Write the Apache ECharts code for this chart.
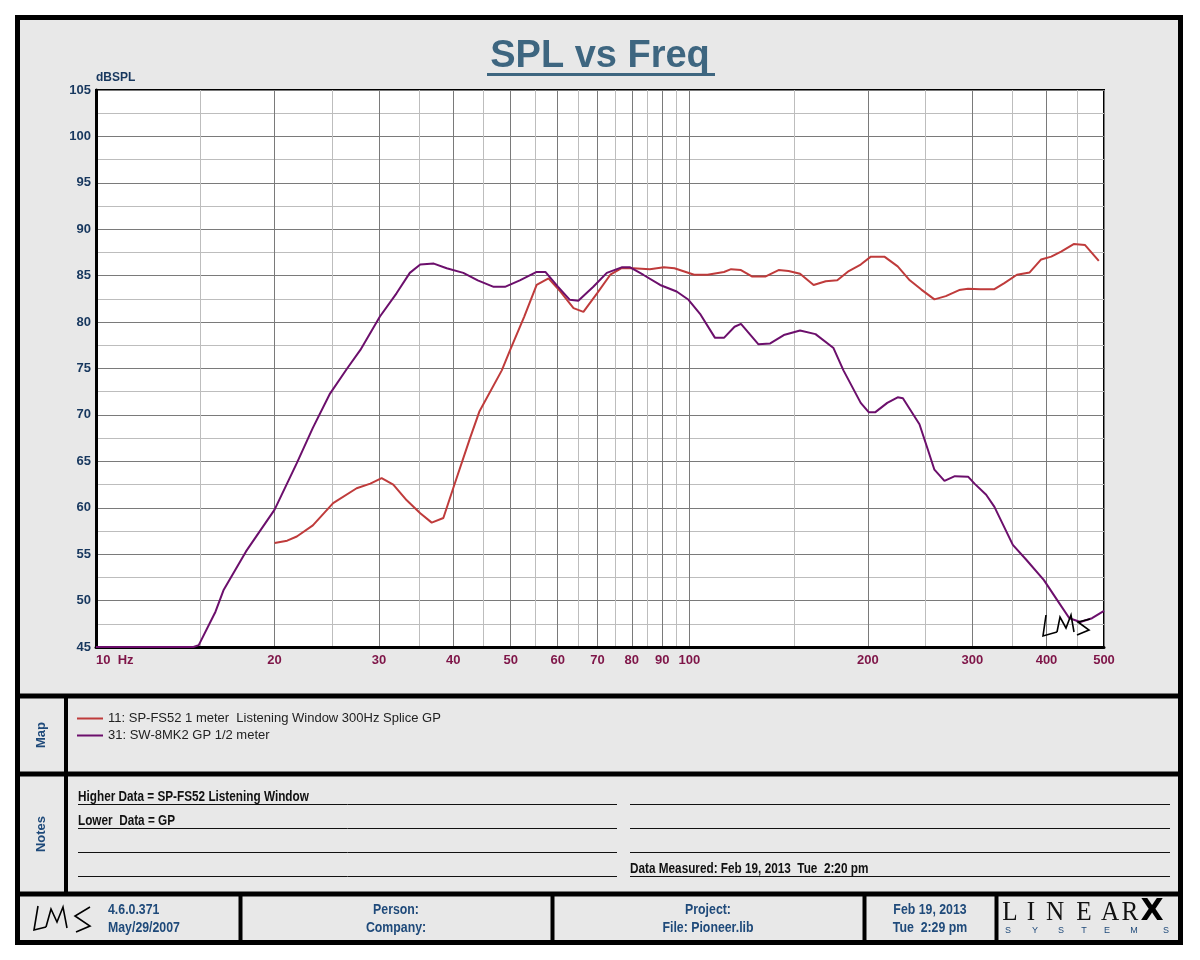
<!DOCTYPE html>
<html>
<head>
<meta charset="utf-8">
<script src="https://cdn.jsdelivr.net/npm/echarts@6/dist/echarts.min.js"></script>
<style>
  html, body { margin: 0; padding: 0; background: #fff; }
  #spl { width: 1200px; height: 960px; }
</style>
</head>
<body>
<div id="spl"></div>
<script>
// 11: SP-FS52 listening window (upper curve)
const freqHigh = [20, 21, 21.8, 23.2, 25.1, 27.5, 29, 30.3, 31.7, 33.4, 35.2, 36.8, 38.5, 40, 42.7, 44.3,
  48.3, 49.9, 52.7, 55.3, 57.9, 60.6, 63.8, 66.3, 69.9, 73.6, 76.9, 80.4, 85.8, 90.6, 94.4, 101.9, 107.3,
  114.4, 117.6, 122.2, 127.7, 134.3, 141.4, 147, 153.7, 162, 169.8, 177.6, 185.7, 194.5, 202.3, 213.2,
  224.5, 235.3, 246.1, 258.9, 270.6, 285, 295, 309.5, 326.8, 339.6, 356.6, 374.7, 391.8, 407.4, 423.3,
  444.5, 464.6, 490];
const splHigh = [56.2, 56.45, 56.9, 58.1, 60.5, 62.1, 62.6, 63.2, 62.5, 60.8, 59.4, 58.4, 58.9, 62.1, 67.5, 70.4,
  74.8, 77, 80.6, 84, 84.7, 83.3, 81.5, 81.1, 83.1, 85.1, 85.8, 85.8, 85.7, 85.9, 85.8, 85.1, 85.1,
  85.4, 85.7, 85.6, 84.9, 84.9, 85.6, 85.5, 85.2, 84, 84.4, 84.5, 85.5, 86.2, 87.05, 87.05,
  86, 84.5, 83.5, 82.45, 82.8, 83.45, 83.6, 83.55, 83.55, 84.2, 85.1, 85.35, 86.75, 87.05, 87.6,
  88.4, 88.3, 86.6];

// 31: SW-8MK2 GP (lower curve)
const freqLow = [10, 14.6, 14.9, 15.9, 16.4, 17.9, 20, 21.8, 23.2, 24.8, 26.5, 27.9, 30.1, 32.1, 33.8, 35.2,
  37.1, 39, 41.6, 44, 46.8, 48.9, 51.8, 55.3, 57.2, 60.1, 62.9, 65, 68.9, 72.6, 76.9, 79.5, 83.6, 89.3,
  95.2, 99.7, 104.5, 110.5, 114.4, 119.2, 122.2, 130.8, 136.9, 144.3, 153.7, 163.2, 175, 181.9, 194.5,
  200.6, 205.9, 215.6, 224.5, 229.1, 244.3, 252.6, 258.9, 269.2, 280.3, 295, 302.5, 316.5, 326.8, 351,
  369.8, 396, 420.5, 437.1, 456.2, 477.3, 500];
const splLow = [45, 45, 45.2, 48.8, 51.1, 55.3, 59.8, 64.8, 68.6, 72.3, 75, 77, 80.6, 83.1, 85.3, 86.2,
  86.3, 85.8, 85.3, 84.5, 83.8, 83.8, 84.5, 85.4, 85.4, 83.8, 82.4, 82.3, 83.8, 85.3, 85.9, 85.9, 85.1, 84,
  83.3, 82.4, 80.8, 78.3, 78.3, 79.5, 79.8, 77.6, 77.7, 78.6, 79.1, 78.7, 77.2, 74.8, 71.3,
  70.3, 70.3, 71.3, 71.9, 71.8, 69, 66.2, 64.1, 62.9, 63.4, 63.35, 62.6, 61.4, 60.1, 56,
  54.4, 52.2, 49.7, 48.1, 47.7, 48.1, 48.9];

// grid lines / tick labels
const freqMajor = [10, 20, 30, 40, 50, 60, 70, 80, 90, 100, 200, 300, 400, 500];
const freqMinor = [15, 25, 35, 45, 55, 65, 75, 85, 95, 150, 250, 350, 450];

const nameHigh = "11: SP-FS52 1 meter  Listening Window 300Hz Splice GP";
const nameLow = "31: SW-8MK2 GP 1/2 meter";

const SANS = "'Liberation Sans', Arial, sans-serif";
const SERIF = "'Liberation Serif', 'DejaVu Serif', serif";
const NAVY = "#17375e";
const FOOT = "#1f4a7a";

const zip = (xs, ys) => xs.map((x, i) => [x, ys[i]]);

const chart = echarts.init(document.getElementById("spl"));

// frame, panels and text blocks around the plot
const graphic = [];
graphic.push({
  type: "rect", z: -10,
  shape: { x: 17.5, y: 17.5, width: 1163, height: 925 },
  style: { fill: "#e8e8e8", stroke: "#000", lineWidth: 5 },
});
[696, 774, 894].forEach((y) => {
  graphic.push({ type: "line", z: 5, shape: { x1: 17, y1: y, x2: 1181, y2: y }, style: { stroke: "#000", lineWidth: 5 } });
});
graphic.push({ type: "line", z: 5, shape: { x1: 66, y1: 698, x2: 66, y2: 892 }, style: { stroke: "#000", lineWidth: 4 } });
[240.5, 552.5, 864.5, 996.5].forEach((x) => {
  graphic.push({ type: "line", z: 5, shape: { x1: x, y1: 896, x2: x, y2: 941 }, style: { stroke: "#000", lineWidth: 4 } });
});

// title underline
graphic.push({ type: "rect", shape: { x: 487, y: 73, width: 228, height: 3 }, style: { fill: "#3e6680" } });

// narrow-looking text: squeeze a normal font horizontally
const squeezed = (txt, x, y, font, fill, align, vAlign, sx) => ({
  type: "text", x: x, y: y, scaleX: sx,
  style: { text: txt, x: 0, y: 0, align: align, textAlign: align, verticalAlign: vAlign, textVerticalAlign: vAlign,
    font: font, fill: fill },
});

// side labels
const sideText = (txt, y) => ({
  type: "text", x: 41, y: y, rotation: Math.PI / 2,
  style: { text: txt, x: 0, y: 0, align: "center", verticalAlign: "middle", textAlign: "center", textVerticalAlign: "middle",
    font: "bold 13px " + SANS, fill: FOOT },
});
graphic.push(sideText("Map", 735));
graphic.push(sideText("Notes", 834));

// notes lines
[804, 828, 852, 876].forEach((y) => {
  graphic.push({ type: "line", shape: { x1: 78, y1: y + 0.5, x2: 617, y2: y + 0.5 }, style: { stroke: "#111", lineWidth: 1 } });
  graphic.push({ type: "line", shape: { x1: 630, y1: y + 0.5, x2: 1170, y2: y + 0.5 }, style: { stroke: "#111", lineWidth: 1 } });
});
const NOTE_FONT = "bold 14px " + SANS;
graphic.push(squeezed("Higher Data = SP-FS52 Listening Window", 78, 804, NOTE_FONT, "#111", "left", "bottom", 0.84));
graphic.push(squeezed("Lower  Data = GP", 78, 828, NOTE_FONT, "#111", "left", "bottom", 0.84));
graphic.push(squeezed("Data Measured: Feb 19, 2013  Tue  2:20 pm", 630, 876, NOTE_FONT, "#111", "left", "bottom", 0.84));

// footer texts
const FOOT_FONT = "bold 14px " + SANS;
const footText = (txt, x, y, align) => squeezed(txt, x, y, FOOT_FONT, FOOT, align, "middle", 0.88);
graphic.push(footText("4.6.0.371", 108, 910, "left"));
graphic.push(footText("May/29/2007", 108, 928, "left"));
graphic.push(footText("Person:", 396, 910, "center"));
graphic.push(footText("Company:", 396, 928, "center"));
graphic.push(footText("Project:", 708, 910, "center"));
graphic.push(footText("File: Pioneer.lib", 708, 928, "center"));
graphic.push(footText("Feb 19, 2013", 930, 910, "center"));
graphic.push(footText("Tue  2:29 pm", 930, 928, "center"));

// LINEARX logo
const logoX = [1010, 1031, 1055, 1084, 1110, 1130];
"LINEAR".split("").forEach((ch, i) => {
  graphic.push(squeezed(ch, logoX[i], 913, "28px " + SERIF, "#111", "center", "middle", 0.9));
});
graphic.push({ type: "text", style: { text: "X", x: 1152, y: 912, align: "center", textAlign: "center",
  verticalAlign: "middle", textVerticalAlign: "middle", font: "bold 30px 'DejaVu Sans', sans-serif", fill: "#000" } });
const sysX = [1008, 1035, 1061, 1084, 1107, 1134, 1166];
"SYSTEMS".split("").forEach((ch, i) => {
  graphic.push({ type: "text", style: { text: ch, x: sysX[i], y: 931, align: "center", textAlign: "center",
    verticalAlign: "middle", textVerticalAlign: "middle", font: "9px " + SANS, fill: "#1f4a7a" } });
});

// hand-written LMS marks
const lms = (pts) => ({ type: "polyline", z: 20, shape: { points: pts }, style: { stroke: "#000", lineWidth: 1.6, fill: null } });
graphic.push(lms([[38, 906], [34, 930], [46, 927]]));
graphic.push(lms([[46, 927], [51, 909], [57, 922], [63, 907], [67, 928]]));
graphic.push(lms([[90, 907], [75, 916], [90, 926], [76, 932]]));
graphic.push(lms([[1046, 615], [1043, 636], [1057, 632]]));
graphic.push(lms([[1057, 632], [1060, 617], [1066, 628], [1071, 615], [1074, 632]]));
graphic.push(lms([[1090, 619], [1078, 622], [1089, 630], [1077, 635]]));

const option = {
  animation: false,
  backgroundColor: "#fff",
  title: {
    text: "SPL vs Freq",
    left: "center",
    top: 33,
    textStyle: { fontFamily: SANS, fontSize: 38, fontWeight: "bold", color: "#3e6680" },
  },
  legend: {
    orient: "vertical",
    left: 77,
    top: 712,
    padding: 0,
    icon: "rect",
    itemWidth: 26,
    itemHeight: 2,
    itemGap: 4,
    selectedMode: false,
    textStyle: { fontFamily: SANS, fontSize: 13, color: "#222" },
    data: [nameHigh, nameLow],
  },
  grid: {
    left: 96,
    right: 96,
    top: 90,
    bottom: 313,
    show: true,
    backgroundColor: "#fff",
    borderColor: "#000",
    borderWidth: 2,
    containLabel: false,
  },
  xAxis: [
    {
      type: "log",
      logBase: 10,
      min: 10,
      max: 500,
      axisLine: { lineStyle: { color: "#000", width: 3 } },
      axisTick: { show: false, customValues: freqMajor },
      axisLabel: {
        customValues: freqMajor,
        interval: 0,
        margin: 7,
        alignMinLabel: "left",
        fontFamily: SANS,
        fontWeight: "bold",
        fontSize: 13,
        color: "#7e1548",
        formatter: (v) => (v === 10 ? "10  Hz" : String(v)),
      },
      splitLine: { show: true, lineStyle: { color: "#7a7a7a", width: 1 } },
    },
    {
      type: "log",
      logBase: 10,
      min: 10,
      max: 500,
      axisLine: { show: false },
      axisTick: { show: false, customValues: freqMinor },
      axisLabel: { show: false, customValues: freqMinor },
      splitLine: { show: true, lineStyle: { color: "#bdbdbd", width: 1 } },
    },
  ],
  yAxis: {
    type: "value",
    min: 45,
    max: 105,
    interval: 5,
    name: "dBSPL",
    nameLocation: "end",
    nameGap: 5,
    nameTextStyle: { align: "left", fontFamily: SANS, fontWeight: "bold", fontSize: 12, color: NAVY },
    axisLine: { lineStyle: { color: "#000", width: 3 } },
    axisTick: { show: false },
    minorTick: { show: false, splitNumber: 2 },
    axisLabel: { margin: 5, fontFamily: SANS, fontWeight: "bold", fontSize: 13, color: NAVY },
    splitLine: { lineStyle: { color: "#7a7a7a", width: 1 } },
    minorSplitLine: { show: true, lineStyle: { color: "#bdbdbd", width: 1 } },
  },
  series: [
    {
      name: nameHigh,
      type: "line",
      xAxisIndex: 0,
      showSymbol: false,
      color: "#bf3b3b",
      lineStyle: { width: 2 },
      data: zip(freqHigh, splHigh),
    },
    {
      name: nameLow,
      type: "line",
      xAxisIndex: 0,
      showSymbol: false,
      color: "#6c0f6c",
      lineStyle: { width: 2 },
      data: zip(freqLow, splLow),
    },
  ],
  graphic: graphic,
};

chart.setOption(option);
</script>
</body>
</html>
